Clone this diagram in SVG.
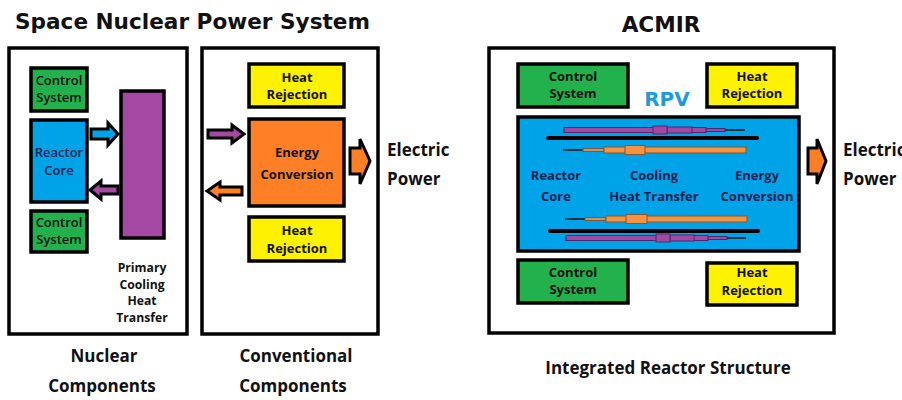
<svg xmlns="http://www.w3.org/2000/svg" width="902" height="400" viewBox="0 0 902 400">
<style>
.frame{fill:#fff;stroke:#000;stroke-width:3.5}
.box{stroke:#000;stroke-width:3.5}
.g{fill:#22b14c}.y{fill:#fff200}.o{fill:#ff7f27}.p{fill:#a349a4}.b{fill:#00a2e8}
.arr{stroke:#000;stroke-width:3;stroke-linejoin:miter}
.t{font-family:"Open Sans","DejaVu Sans",sans-serif;font-size:13px;font-weight:bold;fill:#111;text-anchor:middle}
.ts{font-family:"Open Sans","DejaVu Sans",sans-serif;font-size:12.2px;font-weight:bold;fill:#111;text-anchor:middle}
.tr{font-family:"Open Sans","DejaVu Sans",sans-serif;font-size:13px;font-weight:600;fill:#111;text-anchor:middle}
.nav{fill:#1a2350}
.lab{font-family:"Open Sans","DejaVu Sans",sans-serif;font-size:17px;font-weight:bold;fill:#111}
.title{font-family:"DejaVu Sans","Verdana",sans-serif;font-size:21.6px;font-weight:bold;fill:#111}
.rodp{fill:#a349a4;stroke:#4a2a6a;stroke-width:1}
.rodo{fill:#f7923f;stroke:#7a5a3a;stroke-width:1}
.line{stroke:#111;stroke-width:1.5}
.bar{stroke:#000;stroke-width:4;stroke-linecap:round}
</style>

<text class="title" x="15" y="29">Space Nuclear Power System</text>
<text class="title" x="661" y="32" text-anchor="middle">ACMIR</text>

<!-- Nuclear components panel -->
<g id="nuclear-panel">
<rect class="frame" x="9" y="48" width="178" height="286"/>
</g>
<g id="control-system-1">
<rect class="box g" x="31" y="68" width="56" height="43"/>
<text class="tr" x="59" y="85">Control</text>
<text class="tr" x="59" y="102">System</text>
</g>
<g id="reactor-core">
<rect class="box b" x="31" y="120" width="56" height="82"/>
<text class="tr nav" x="59" y="157">Reactor</text>
<text class="tr nav" x="59" y="175">Core</text>
</g>
<g id="control-system-2">
<rect class="box g" x="31" y="211" width="56" height="41"/>
<text class="tr" x="59" y="227">Control</text>
<text class="tr" x="59" y="244">System</text>
</g>
<g id="primary-cooling">
<rect class="box p" x="121" y="91" width="43" height="147"/>
<text class="ts" x="142" y="272">Primary</text>
<text class="ts" x="142" y="288.5">Cooling</text>
<text class="ts" x="142" y="305">Heat</text>
<text class="ts" x="142" y="321.5">Transfer</text>
</g>

<!-- Conventional components panel -->
<g id="conventional-panel">
<rect class="frame" x="202" y="48" width="176" height="286"/>
</g>
<g id="heat-rejection-1">
<rect class="box y" x="249" y="64" width="95" height="43"/>
<text class="t" x="297" y="82">Heat</text>
<text class="t" x="297" y="99">Rejection</text>
</g>
<g id="energy-conversion">
<rect class="box o" x="249" y="119" width="95" height="87"/>
<text class="t" x="297" y="157">Energy</text>
<text class="t" x="297" y="179">Conversion</text>
</g>
<g id="heat-rejection-2">
<rect class="box y" x="249" y="217" width="95" height="44"/>
<text class="t" x="297" y="235">Heat</text>
<text class="t" x="297" y="253">Rejection</text>
</g>
<g id="electric-power-1">
<text class="lab" x="387" y="156">Electric</text>
<text class="lab" x="387" y="185">Power</text>
</g>

<!-- ACMIR panel -->
<g id="acmir-panel">
<rect class="frame" x="489" y="48" width="345" height="285"/>
<text x="667" y="106" text-anchor="middle" style="font-family:'DejaVu Sans',Verdana,sans-serif;font-size:20px;font-weight:bold;fill:#1e9be0">RPV</text>
</g>
<g id="acmir-control-1">
<rect class="box g" x="518" y="64" width="110" height="43"/>
<text class="t" x="573" y="81">Control</text>
<text class="t" x="573" y="98">System</text>
</g>
<g id="acmir-heat-rejection-1">
<rect class="box y" x="707" y="64" width="90" height="43"/>
<text class="t" x="752" y="81">Heat</text>
<text class="t" x="752" y="98">Rejection</text>
</g>
<g id="rpv">
<rect class="box b" x="518" y="117" width="281" height="134"/>
<!-- top purple rod -->
<line class="line" x1="724" y1="130" x2="745" y2="130"/>
<rect class="rodp" x="706" y="128.5" width="19" height="3"/>
<rect class="rodp" x="564" y="127.5" width="142" height="5"/>
<rect class="rodp" x="667" y="127" width="25" height="6"/>
<rect class="rodp" x="653" y="126" width="14" height="8"/>
<line class="bar" x1="548" y1="138" x2="757" y2="138"/>
<!-- top orange rod -->
<line class="line" x1="563" y1="150" x2="584" y2="150"/>
<rect class="rodo" x="583" y="148.5" width="21" height="3" style="fill:#c99466"/>
<rect class="rodo" x="604" y="147" width="142" height="6"/>
<rect class="rodo" x="625" y="145.5" width="20" height="9"/>
<text class="t nav" x="556" y="180">Reactor</text>
<text class="t nav" x="556" y="201">Core</text>
<text class="t nav" x="654" y="180">Cooling</text>
<text class="t nav" x="654" y="201">Heat Transfer</text>
<text class="t nav" x="757" y="180">Energy</text>
<text class="t nav" x="757" y="201">Conversion</text>
<!-- bottom orange rod -->
<line class="line" x1="565" y1="219" x2="586" y2="219"/>
<rect class="rodo" x="585" y="217.5" width="21" height="3" style="fill:#c99466"/>
<rect class="rodo" x="606" y="216" width="141" height="6"/>
<rect class="rodo" x="626" y="214.5" width="21" height="9"/>
<line class="bar" x1="550" y1="231" x2="758" y2="231"/>
<!-- bottom purple rod -->
<line class="line" x1="726" y1="238" x2="746" y2="238"/>
<rect class="rodp" x="708" y="236.5" width="19" height="3"/>
<rect class="rodp" x="566" y="235.5" width="142" height="5"/>
<rect class="rodp" x="670" y="235" width="24" height="6"/>
<rect class="rodp" x="656" y="234" width="14" height="8"/>
</g>
<g id="acmir-control-2">
<rect class="box g" x="518" y="260" width="110" height="43"/>
<text class="t" x="573" y="277">Control</text>
<text class="t" x="573" y="294">System</text>
</g>
<g id="acmir-heat-rejection-2">
<rect class="box y" x="707" y="263" width="90" height="42"/>
<text class="t" x="752" y="277">Heat</text>
<text class="t" x="752" y="295">Rejection</text>
</g>
<g id="electric-power-2">
<text class="lab" x="843" y="156">Electric</text>
<text class="lab" x="843" y="185">Power</text>
</g>

<!-- bottom captions -->
<g id="captions">
<text class="lab" x="104" y="362" text-anchor="middle">Nuclear</text>
<text class="lab" x="102" y="392" text-anchor="middle">Components</text>
<text class="lab" x="296" y="362" text-anchor="middle">Conventional</text>
<text class="lab" x="293" y="392" text-anchor="middle">Components</text>
<text class="lab" x="668" y="374" text-anchor="middle">Integrated Reactor Structure</text>
</g>

<!-- connectors -->
<g id="connectors">
<polygon class="arr b" points="91,129 108,129 108,123 118,134 108,145 108,139 91,139"/>
<polygon class="arr p" points="118,186 101,186 101,181 90,190 101,199 101,194 118,194"/>
<polygon class="arr p" points="208,130 232,130 232,125 244,134 232,143 232,138 208,138"/>
<polygon class="arr o" points="242,187 220,187 220,182 207,191 220,200 220,195 242,195"/>
<polygon class="arr o" points="350,148 360,148 360,139 370,161 360,184 360,174 350,174"/>
<polygon class="arr o" points="808,148 817,148 817,139 826,161 817,184 817,174 808,174"/>
</g>
</svg>
